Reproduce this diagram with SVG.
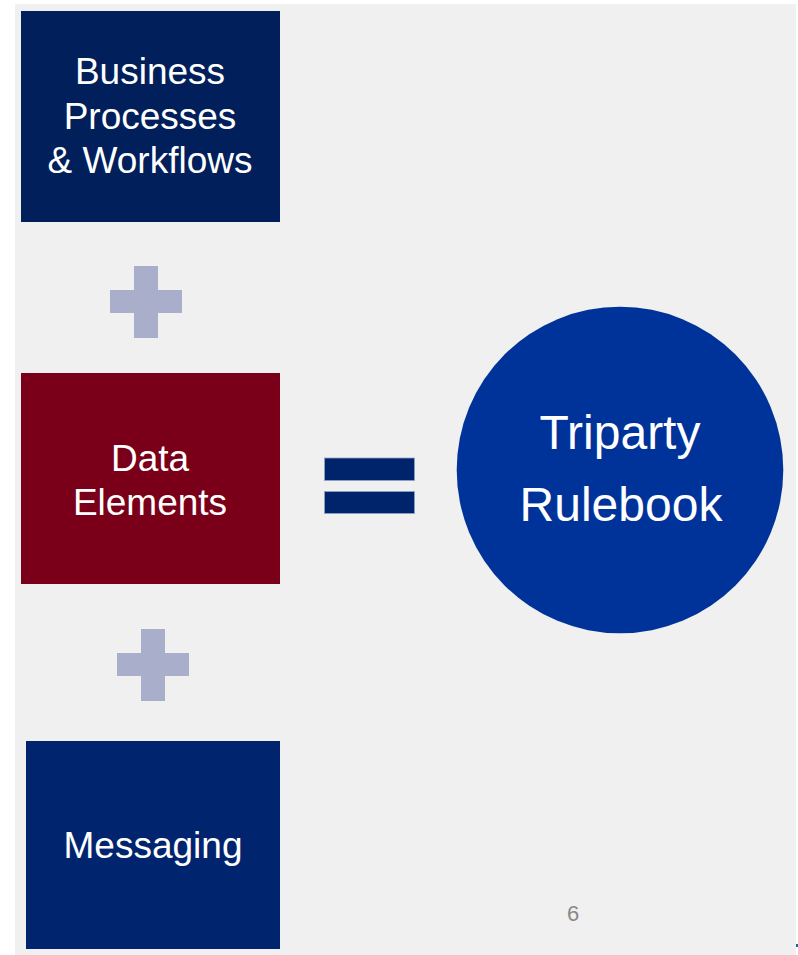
<svg xmlns="http://www.w3.org/2000/svg" width="798" height="955" viewBox="0 0 798 955">
<style>
.lbl{font-family:"Liberation Sans",Arial,sans-serif;fill:#ffffff;text-anchor:middle}
.box{font-size:37px}
.sym{fill:#a9aecb}
.eq{fill:#00246b;stroke:#8fa3c8;stroke-width:0.8}
</style>
<rect x="0" y="0" width="798" height="955" fill="#ffffff"/>
<rect x="15" y="4" width="781" height="951" fill="#f0f0f0"/>
<g id="connectors">
<g id="plus1" class="sym">
<rect x="134" y="266" width="24" height="72"/>
<rect x="110" y="290" width="72" height="23"/>
</g>
<g id="plus2" class="sym">
<rect x="141" y="629" width="24" height="72"/>
<rect x="117" y="653" width="72" height="23"/>
</g>
<g id="equals">
<rect class="eq" x="324.5" y="458" width="90" height="22.5"/>
<rect class="eq" x="324.5" y="491.5" width="90" height="22"/>
</g>
</g>
<g id="node-business">
<rect x="21" y="11" width="259" height="211" fill="#001f5b"/>
<text class="lbl box" x="150" y="84">Business</text>
<text class="lbl box" x="150" y="128.5">Processes</text>
<text class="lbl box" x="150" y="173">&amp; Workflows</text>
</g>
<g id="node-data">
<rect x="21" y="373" width="259" height="211" fill="#7a0019"/>
<text class="lbl box" x="150" y="471">Data</text>
<text class="lbl box" x="150" y="515">Elements</text>
</g>
<g id="node-messaging">
<rect x="26" y="741" width="254" height="208" fill="#00246e"/>
<text class="lbl box" x="153" y="858">Messaging</text>
</g>
<g id="node-rulebook">
<circle cx="620" cy="470" r="163.3" fill="#003399"/>
<text class="lbl" x="620" y="448.5" font-size="48">Triparty</text>
<text class="lbl" x="621" y="521" font-size="48">Rulebook</text>
</g>
<text x="573" y="921" font-family="'Liberation Sans',Arial,sans-serif" font-size="22" fill="#898989" text-anchor="middle">6</text>
<rect x="796" y="944" width="2" height="3" fill="#1f5fb0"/>
</svg>
